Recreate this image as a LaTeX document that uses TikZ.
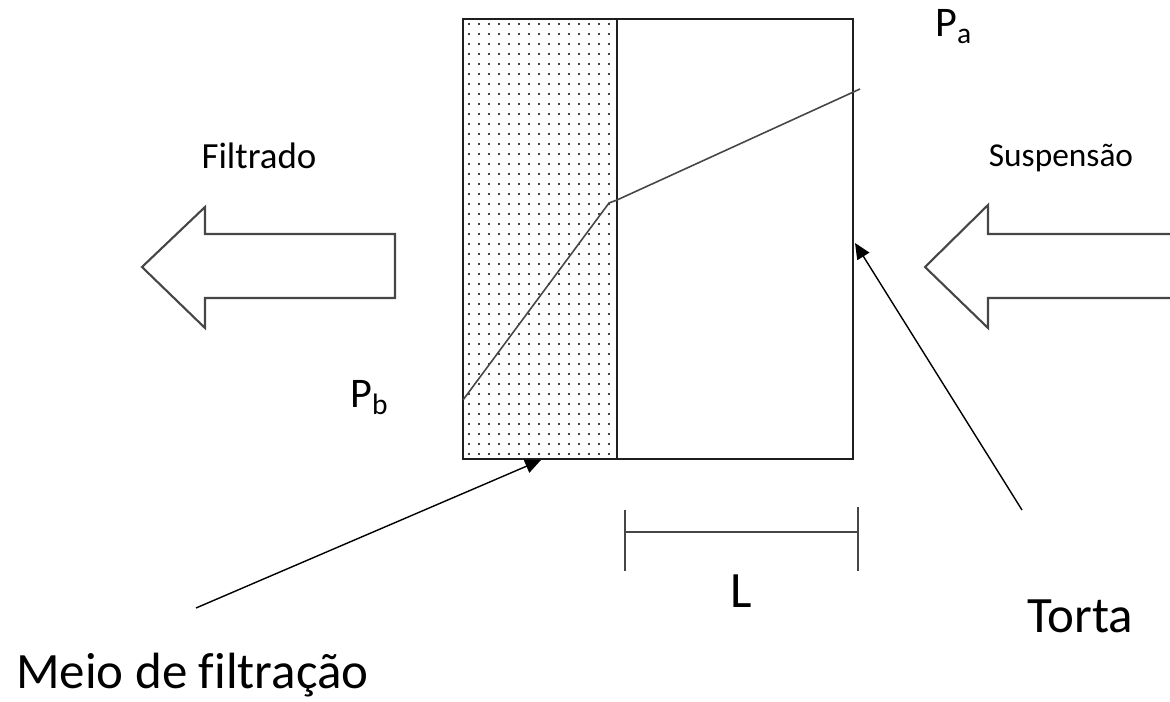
\documentclass[tikz,border=0pt]{standalone}
\usepackage{fontspec}
\setmainfont{Carlito}[Ligatures=NoCommon]
\usepackage{tikz}
\usetikzlibrary{arrows.meta,positioning}
\usepackage{xcolor}
\definecolor{flline}{RGB}{30,30,30}
\definecolor{flgray}{RGB}{70,70,70}
\tikzset{
  wallbox/.style={draw=flline,line width=1.3pt},
  flowarrow/.style={draw=flgray,line width=1.2pt,line join=miter,fill=white},
  pressline/.style={draw=flgray,line width=0.9pt},
  pointer/.style={-{Triangle[length=9pt,width=8pt]},draw=black,line width=0.8pt},
  dimline/.style={draw=flgray,line width=1.3pt},
  smalllabel/.style={font=\fontsize{19}{21}\selectfont,inner sep=0pt},
  biglabel/.style={font=\fontsize{29}{32}\selectfont,inner sep=0pt}
}

\begin{document}
\begin{tikzpicture}[x=0.02cm,y=-0.02cm]
  \useasboundingbox (0,0) rectangle (1170,702);
  % filter medium and cake
  \foreach \i in {0,...,14}{
    \foreach \j in {0,...,43}{
      \fill (469+10*\i,24+10*\j) circle (0.65pt);
    }
  }
  \coordinate (boxnw) at (463,19);
  \coordinate (boxse) at (853,459);
  \coordinate (divtop) at (617,19);
  \coordinate (divbot) at (617,459);
  \draw[wallbox] (boxnw) rectangle (boxse);
  \draw[wallbox] (divtop) -- (divbot);
  % pressure profile
  \coordinate (pb) at (463,400);
  \coordinate (knee) at (609,203);
  \coordinate (face) at (617,200);
  \coordinate (pa) at (860,89);
  \draw[pressline] (pb) -- (knee) -- (face) -- (pa);
  % flow arrows
  \draw[flowarrow] (395,234) -- (205,234) -- (205,207) -- (142,267)
    -- (205,328) -- (205,298) -- (395,298) -- cycle;
  \draw[flowarrow] (1174,234) -- (988,234) -- (988,205) -- (925,267)
    -- (988,328) -- (988,298) -- (1174,298);
  \node[smalllabel,font=\fontsize{21}{23}\selectfont,anchor=base] (filtrado) at (259,169) {Filtrado};
  \node[smalllabel,anchor=base] (susp) at (1061,167) {Suspensão};
  \node[font=\fontsize{24}{26}\selectfont,inner sep=0pt,anchor=base west]
    (palabel) at (935,37) {P\textsubscript{a}};
  \node[font=\fontsize{24}{26}\selectfont,inner sep=0pt,anchor=base west]
    (pblabel) at (350,408) {P\textsubscript{b}};
  % cake thickness
  \coordinate (dimleft) at (625,532);
  \coordinate (dimright) at (858,532);
  \draw[dimline] (dimleft) -- (dimright);
  \draw[dimline] (625,510) -- (625,571);
  \draw[dimline] (858,507) -- (858,571);
  \node[biglabel,anchor=base] (llabel) at (741,607) {L};
  % pointers
  \node[biglabel,anchor=base] (torta) at (1080,632) {Torta};
  \node[biglabel,anchor=base west] (meio) at (16,688) {Meio de filtração};
  \coordinate (tortatail) at (1022,510);
  \coordinate (tortahead) at (855,243);
  \coordinate (meiotail) at (196,608);
  \coordinate (meiohead) at (541,460);
  \draw[pointer] (tortatail) -- (tortahead);
  \draw[pointer] (meiotail) -- (meiohead);
\end{tikzpicture}
\end{document}
